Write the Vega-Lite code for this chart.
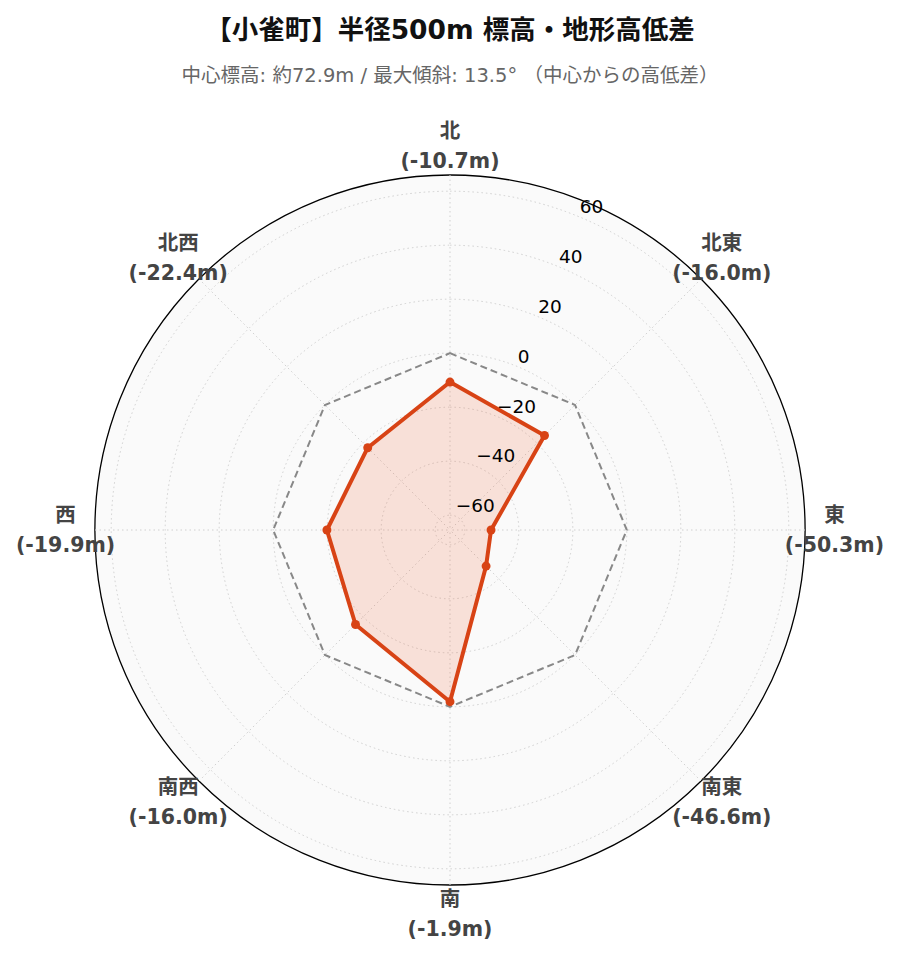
{
  "$schema": "https://vega.github.io/schema/vega-lite/v6.json",
  "width": 710,
  "height": 710,
  "autosize": {"type": "none"},
  "padding": {"left": 95, "top": 175, "right": 94, "bottom": 77},
  "background": "white",
  "title": {
    "text": "【小雀町】半径500m 標高・地形高低差",
    "subtitle": "中心標高: 約72.9m / 最大傾斜: 13.5° （中心からの高低差）",
    "font": "DejaVu Sans, Noto Sans CJK JP",
    "fontSize": 26.5,
    "fontWeight": "bold",
    "color": "#111111",
    "subtitleFont": "DejaVu Sans, Noto Sans CJK JP",
    "subtitleFontSize": 19.5,
    "subtitleColor": "#666666",
    "subtitlePadding": 23,
    "anchor": "middle",
    "frame": "group",
    "offset": 36
  },
  "config": {"view": {"stroke": null}},
  "datasets": {
    "dirs": [
      {"dir": "北", "angle": 0, "diff": -10.7},
      {"dir": "北東", "angle": 45, "diff": -16.0},
      {"dir": "東", "angle": 90, "diff": -50.3},
      {"dir": "南東", "angle": 135, "diff": -46.6},
      {"dir": "南", "angle": 180, "diff": -1.9},
      {"dir": "南西", "angle": 225, "diff": -16.0},
      {"dir": "西", "angle": 270, "diff": -19.9},
      {"dir": "北西", "angle": 315, "diff": -22.4}
    ],
    "rings": [
      {"r": -60}, {"r": -40}, {"r": -20}, {"r": 0}, {"r": 20}, {"r": 40}, {"r": 60}
    ],
    "outer": [{"r": 66}]
  },
  "layer": [
    {
      "data": {"name": "outer"},
      "mark": {"type": "arc", "theta": 0, "theta2": 6.2832, "fill": "#fafafa", "stroke": "#000000", "strokeWidth": 1.3},
      "encoding": {
        "radius": {"field": "r", "type": "quantitative", "stack": null, "scale": {"type": "linear", "domain": [-65.5, 66], "range": [0, 355], "zero": false}},
        "radius2": {"datum": -65.5}
      }
    },
    {
      "data": {"name": "rings"},
      "mark": {"type": "arc", "theta": 0, "theta2": 6.2832, "fillOpacity": 0, "stroke": "#d0d0d0", "strokeWidth": 1, "strokeDash": [1.5, 3]},
      "encoding": {
        "radius": {"field": "r", "type": "quantitative", "stack": null, "scale": {"type": "linear", "domain": [-65.5, 66], "range": [0, 355], "zero": false}},
        "radius2": {"datum": -65.5}
      }
    },
    {
      "data": {"name": "dirs"},
      "transform": [
        {"calculate": "131.5 * sin(datum.angle * PI / 180)", "as": "sx"},
        {"calculate": "131.5 * cos(datum.angle * PI / 180)", "as": "sy"}
      ],
      "mark": {"type": "rule", "stroke": "#d0d0d0", "strokeWidth": 1, "strokeDash": [1.5, 3]},
      "encoding": {
        "x": {"field": "sx", "type": "quantitative", "scale": {"domain": [-131.5, 131.5]}, "axis": null},
        "y": {"field": "sy", "type": "quantitative", "scale": {"domain": [-131.5, 131.5]}, "axis": null},
        "x2": {"datum": 0},
        "y2": {"datum": 0}
      }
    },
    {
      "data": {"name": "dirs"},
      "transform": [
        {"calculate": "65.5 * sin(datum.angle * PI / 180)", "as": "zx"},
        {"calculate": "65.5 * cos(datum.angle * PI / 180)", "as": "zy"}
      ],
      "mark": {"type": "line", "interpolate": "linear-closed", "stroke": "#888888", "strokeWidth": 2, "strokeDash": [7, 4]},
      "encoding": {
        "x": {"field": "zx", "type": "quantitative", "scale": {"domain": [-131.5, 131.5]}, "axis": null},
        "y": {"field": "zy", "type": "quantitative", "scale": {"domain": [-131.5, 131.5]}, "axis": null},
        "order": {"field": "angle", "type": "quantitative"}
      }
    },
    {
      "data": {"name": "dirs"},
      "transform": [
        {"calculate": "(datum.diff + 65.5) * sin(datum.angle * PI / 180)", "as": "px"},
        {"calculate": "(datum.diff + 65.5) * cos(datum.angle * PI / 180)", "as": "py"}
      ],
      "mark": {"type": "line", "interpolate": "linear-closed", "fill": "#f4511e", "fillOpacity": 0.15, "stroke": "#d84315", "strokeWidth": 4, "strokeJoin": "round"},
      "encoding": {
        "x": {"field": "px", "type": "quantitative", "scale": {"domain": [-131.5, 131.5]}, "axis": null},
        "y": {"field": "py", "type": "quantitative", "scale": {"domain": [-131.5, 131.5]}, "axis": null},
        "order": {"field": "angle", "type": "quantitative"}
      }
    },
    {
      "data": {"name": "dirs"},
      "transform": [
        {"calculate": "(datum.diff + 65.5) * sin(datum.angle * PI / 180)", "as": "px"},
        {"calculate": "(datum.diff + 65.5) * cos(datum.angle * PI / 180)", "as": "py"}
      ],
      "mark": {"type": "circle", "size": 80, "color": "#d84315", "opacity": 1},
      "encoding": {
        "x": {"field": "px", "type": "quantitative", "scale": {"domain": [-131.5, 131.5]}, "axis": null},
        "y": {"field": "py", "type": "quantitative", "scale": {"domain": [-131.5, 131.5]}, "axis": null}
      }
    },
    {
      "data": {"name": "rings"},
      "transform": [
        {"calculate": "(datum.r + 65.5) * sin(22.5 * PI / 180)", "as": "tx"},
        {"calculate": "(datum.r + 65.5) * cos(22.5 * PI / 180)", "as": "ty"}
      ],
      "mark": {"type": "text", "align": "left", "baseline": "bottom", "font": "DejaVu Sans", "fontSize": 18.5, "color": "#000000"},
      "encoding": {
        "x": {"field": "tx", "type": "quantitative", "scale": {"domain": [-131.5, 131.5]}, "axis": null},
        "y": {"field": "ty", "type": "quantitative", "scale": {"domain": [-131.5, 131.5]}, "axis": null},
        "text": {"field": "r", "type": "quantitative", "format": "d"}
      }
    },
    {
      "data": {"name": "dirs"},
      "transform": [
        {"calculate": "142.4 * sin(datum.angle * PI / 180)", "as": "lx"},
        {"calculate": "142.4 * cos(datum.angle * PI / 180)", "as": "ly"},
        {"calculate": "[datum.dir, '(' + replace(format(datum.diff, '.1f'), '−', '-') + 'm)']", "as": "lab"}
      ],
      "mark": {"type": "text", "align": "center", "baseline": "middle", "dy": -14, "font": "DejaVu Sans, Noto Sans CJK JP", "fontSize": 20.5, "fontWeight": "bold", "color": "#444444", "lineHeight": 30},
      "encoding": {
        "x": {"field": "lx", "type": "quantitative", "scale": {"domain": [-131.5, 131.5]}, "axis": null},
        "y": {"field": "ly", "type": "quantitative", "scale": {"domain": [-131.5, 131.5]}, "axis": null},
        "text": {"field": "lab", "type": "nominal"}
      }
    }
  ]
}
